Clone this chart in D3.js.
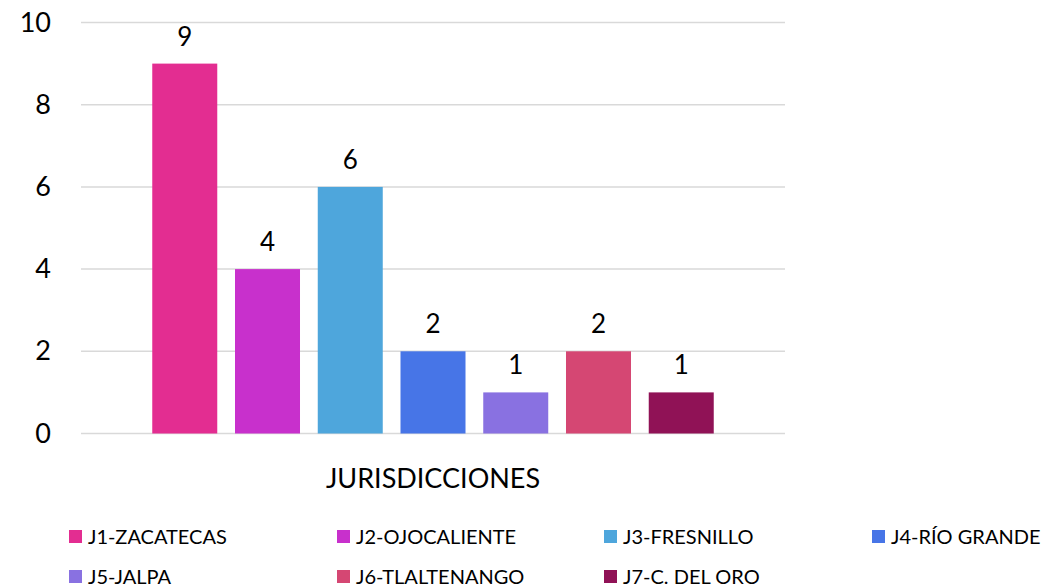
<!DOCTYPE html>
<html>
<head>
<meta charset="utf-8">
<script src="https://cdn.jsdelivr.net/npm/d3@7"></script>
<style>
  body { margin: 0; background: #fff; }
  svg { display: block; font-family: Lato, "Liberation Sans", sans-serif; }
</style>
</head>
<body>
<svg id="chart" width="1048" height="587"></svg>
<script>
const category = "JURISDICCIONES";
const seriesNames = ["J1-ZACATECAS", "J2-OJOCALIENTE", "J3-FRESNILLO", "J4-RÍO GRANDE", "J5-JALPA", "J6-TLALTENANGO", "J7-C. DEL ORO"];
const seriesValues = [9, 4, 6, 2, 1, 2, 1];
const seriesColors = ["#E32D91", "#C830CC", "#4EA6DC", "#4775E7", "#8971E1", "#D54773", "#901256"];
const yTicks = [0, 2, 4, 6, 8, 10];

const svg = d3.select("#chart");
const plotLeft = 81, plotRight = 785, plotTop = 22.5, plotBottom = 433.5;

const y = d3.scaleLinear().domain([0, 10]).range([plotBottom, plotTop]);
const x0 = d3.scaleBand().domain([category]).range([plotLeft, plotRight]).paddingInner(0).paddingOuter(0.1077);
const x1 = d3.scaleBand().domain(seriesNames).range([x0(category), x0(category) + x0.bandwidth()]).paddingInner(0.2145).paddingOuter(0.10725);

// gridlines
svg.append("g").selectAll("line").data(yTicks).join("line")
  .attr("x1", plotLeft).attr("x2", plotRight)
  .attr("y1", d => y(d)).attr("y2", d => y(d))
  .attr("stroke", "#d9d9d9").attr("stroke-width", 1.5);

// y axis labels
const yAxis = d3.axisLeft(y).tickValues(yTicks).tickSize(0).tickPadding(0).tickFormat(d3.format("d"));
const yg = svg.append("g").attr("transform", "translate(51,0)").call(yAxis);
yg.select(".domain").remove();
yg.selectAll("text").attr("font-size", 27).attr("fill", "#000").attr("font-family", "Lato, 'Liberation Sans', sans-serif");

// bars
const data = seriesNames.map((n, i) => ({ name: n, value: seriesValues[i], color: seriesColors[i] }));
svg.append("g").selectAll("rect").data(data).join("rect")
  .attr("x", d => x1(d.name))
  .attr("width", x1.bandwidth())
  .attr("y", d => y(d.value))
  .attr("height", d => y(0) - y(d.value))
  .attr("fill", d => d.color);

// data labels
svg.append("g").selectAll("text").data(data).join("text")
  .attr("x", d => x1(d.name) + x1.bandwidth() / 2)
  .attr("y", d => y(d.value) - 18)
  .attr("text-anchor", "middle")
  .attr("font-size", 26)
  .attr("fill", "#000")
  .text(d => d.value);

// x axis category label
svg.append("text")
  .attr("x", x0(category) + x0.bandwidth() / 2)
  .attr("y", 488)
  .attr("text-anchor", "middle")
  .attr("font-size", 27)
  .attr("fill", "#000")
  .text(category);

// legend
const legX = [69, 337, 604, 872];
const legY = [530, 570];
const leg = svg.append("g").selectAll("g").data(data).join("g")
  .attr("transform", (d, i) => `translate(${legX[i % 4]},${legY[Math.floor(i / 4)]})`);
leg.append("rect").attr("width", 13).attr("height", 13).attr("fill", d => d.color);
leg.append("text").attr("x", 19).attr("y", 14).attr("font-size", 20).attr("fill", "#000").text(d => d.name);
</script>
</body>
</html>
